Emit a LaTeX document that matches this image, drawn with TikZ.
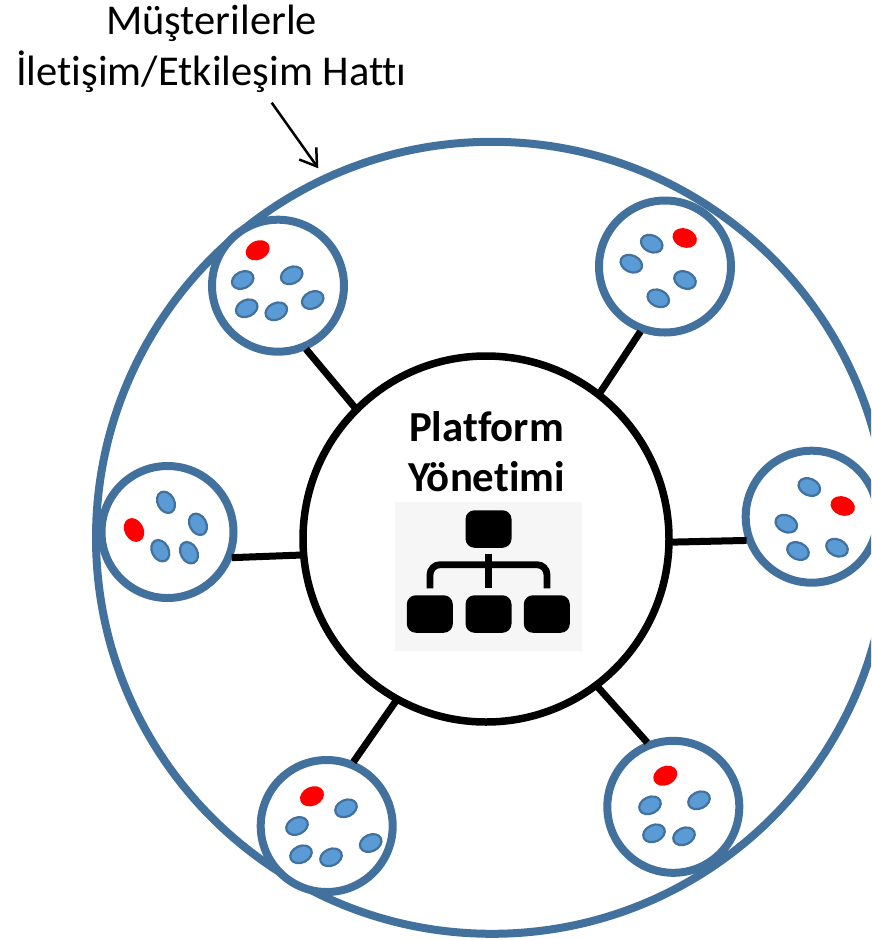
\documentclass[tikz,border=0pt]{standalone}
\usepackage{fontspec}
\setmainfont{Carlito}[Ligatures=NoCommon]
\usetikzlibrary{shapes.geometric,arrows.meta}
\definecolor{ringblue}{HTML}{41719C}
\definecolor{dotblue}{HTML}{5B9BD5}
\definecolor{iconbg}{HTML}{F6F6F6}
\tikzset{
  ring/.style={circle,draw=ringblue,line width=8pt,fill=white,minimum size=132pt,inner sep=0pt,outer sep=0pt},
  hub/.style={circle,draw=black,line width=7.5pt,fill=white,minimum size=366pt,inner sep=0pt,outer sep=0pt},
  spoke/.style={draw=black,line width=7pt,shorten >=3.5pt,shorten <=3pt},
  member/.style={ellipse,draw=ringblue,line width=2.2pt,fill=dotblue,minimum width=22.5pt,minimum height=16.5pt,inner sep=0pt},
  lead/.style={ellipse,fill=red,minimum width=25pt,minimum height=19pt,inner sep=0pt},
  box/.style={rectangle,rounded corners=9pt,fill=black,minimum width=46pt,minimum height=37.5pt,inner sep=0pt},
  tree/.style={draw=black,line width=6.8pt}
}
\begin{document}
\begin{tikzpicture}[x=1pt,y=-1pt]
\useasboundingbox (0,0) rectangle (871,940);
\begin{scope}
\clip (0,0) rectangle (871,940);
\node[circle,draw=ringblue,line width=8pt,minimum size=792pt,inner sep=0pt] (outer) at (492,537.8) {};
\node[hub] (hub) at (486,539) {};
\node[ring] (c1) at (278,285.7) {};
\node[ring] (c2) at (665,266.5) {};
\node[ring] (c3) at (811.7,516.7) {};
\node[ring] (c4) at (673.3,806.8) {};
\node[ring] (c5) at (326.7,826) {};
\node[ring] (c6) at (167.5,532) {};
\draw[spoke] (hub.135) -- (c1.-67);
\draw[spoke] (hub.52.6) -- (c2.-110);
\draw[spoke] (hub.-1.5) -- (c3.201);
\draw[spoke] (hub.-53) -- (c4.111);
\draw[spoke] (hub.-119.5) -- (c5.68);
\draw[spoke] (hub.-175) -- (c6.-23);
\foreach \x/\y in {242.7/280,291.7/275.3,246.7/308.3,276.3/311.3,312.7/300,650/805.3,699/800.3,654/833.3,684/836.3,346/808.3,297/826,370.7/843,301/854.3,331/857.3}
  \node[member,rotate=25] at (\x,\y) {};
\foreach \x/\y in {651.7/243.7,631.3/263.7,685/280,658.3/298.3,809.3/487,786.3/523.7,798/551,837/547.7}
  \node[member,rotate=-25] at (\x,\y) {};
\foreach \x/\y in {166/502.3,198/524.3,160.3/550.7,189/552.7}
  \node[member,rotate=-62] at (\x,\y) {};
\foreach \x/\y in {257.7/250.3,665.3/775.7,312/796.3}
  \node[lead,rotate=25] at (\x,\y) {};
\foreach \x/\y in {684.7/238,842.7/506}
  \node[lead,rotate=-20] at (\x,\y) {};
\node[lead,rotate=-62] at (134,530) {};
\end{scope}
\node[font=\fontsize{42.5}{51}\selectfont,align=center,inner sep=0pt] (label) at (211.5,49) {Müşterilerle\\İletişim/Etkileşim Hattı};
\coordinate (a0) at (271.7,102.7);
\coordinate (a1) at (318.3,168.3);
\draw[line width=2.5pt,-{Straight Barb[length=16pt,width=21pt]}] (a0) -- (a1);
\node[font=\bfseries\fontsize{42.8}{50}\selectfont,align=center,inner sep=0pt] (title) at (486.5,452) {Platform\\Yönetimi};
\fill[iconbg] (395,502) rectangle (582,651);
\node[box] (b0) at (488.5,529) {};
\node[box] (b1) at (429.8,614) {};
\node[box] (b2) at (488.5,614) {};
\node[box] (b3) at (546.8,614) {};
\draw[tree,rounded corners=10pt] (430,588.3) -- (430,564.7) -- (547,564.7) -- (547,588.3);
\draw[tree] (488.3,554.3) -- (488.3,588.3);
\end{tikzpicture}
\end{document}
